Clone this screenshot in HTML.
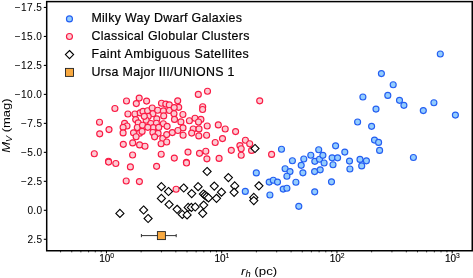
<!DOCTYPE html>
<html><head><meta charset="utf-8"><style>
html,body{margin:0;padding:0;background:#fff;}
svg{display:block;will-change:transform}
text{font-family:"Liberation Sans",sans-serif;fill:#000;stroke:#000;stroke-width:0.3px}
.tl{font-size:10.1px;stroke-width:0.05px}
.xl{font-size:10px;stroke-width:0.15px}
.xs{font-size:6.8px;stroke-width:0.1px}
.al{font-size:11.6px;stroke-width:0.02px}
.lg{font-size:12.4px;stroke-width:0.2px}
</style></head><body>
<svg width="473" height="278" viewBox="0 0 473 278">
<line x1="43.8" y1="7.45" x2="46.7" y2="7.45" stroke="#000" stroke-width="1.1"/>
<text x="42" y="10.85" text-anchor="end" class="tl" textLength="27.3" lengthAdjust="spacing">−17.5</text>
<line x1="43.8" y1="36.43" x2="46.7" y2="36.43" stroke="#000" stroke-width="1.1"/>
<text x="42" y="39.83" text-anchor="end" class="tl" textLength="27.3" lengthAdjust="spacing">−15.0</text>
<line x1="43.8" y1="65.41" x2="46.7" y2="65.41" stroke="#000" stroke-width="1.1"/>
<text x="42" y="68.81" text-anchor="end" class="tl" textLength="27.3" lengthAdjust="spacing">−12.5</text>
<line x1="43.8" y1="94.39" x2="46.7" y2="94.39" stroke="#000" stroke-width="1.1"/>
<text x="42" y="97.79" text-anchor="end" class="tl" textLength="27.3" lengthAdjust="spacing">−10.0</text>
<line x1="43.8" y1="123.37" x2="46.7" y2="123.37" stroke="#000" stroke-width="1.1"/>
<text x="42" y="126.77" text-anchor="end" class="tl" textLength="21.1" lengthAdjust="spacing">−7.5</text>
<line x1="43.8" y1="152.35" x2="46.7" y2="152.35" stroke="#000" stroke-width="1.1"/>
<text x="42" y="155.75" text-anchor="end" class="tl" textLength="21.1" lengthAdjust="spacing">−5.0</text>
<line x1="43.8" y1="181.33" x2="46.7" y2="181.33" stroke="#000" stroke-width="1.1"/>
<text x="42" y="184.73" text-anchor="end" class="tl" textLength="21.1" lengthAdjust="spacing">−2.5</text>
<line x1="43.8" y1="210.31" x2="46.7" y2="210.31" stroke="#000" stroke-width="1.1"/>
<text x="42" y="213.71" text-anchor="end" class="tl" textLength="14.6" lengthAdjust="spacing">0.0</text>
<line x1="43.8" y1="239.29" x2="46.7" y2="239.29" stroke="#000" stroke-width="1.1"/>
<text x="42" y="242.69" text-anchor="end" class="tl" textLength="14.6" lengthAdjust="spacing">2.5</text>
<line x1="60.59" y1="250.75" x2="60.59" y2="252.35" stroke="#000" stroke-width="0.8"/>
<line x1="71.76" y1="250.75" x2="71.76" y2="252.35" stroke="#000" stroke-width="0.8"/>
<line x1="80.88" y1="250.75" x2="80.88" y2="252.35" stroke="#000" stroke-width="0.8"/>
<line x1="88.60" y1="250.75" x2="88.60" y2="252.35" stroke="#000" stroke-width="0.8"/>
<line x1="95.28" y1="250.75" x2="95.28" y2="252.35" stroke="#000" stroke-width="0.8"/>
<line x1="101.18" y1="250.75" x2="101.18" y2="252.35" stroke="#000" stroke-width="0.8"/>
<line x1="106.45" y1="250.75" x2="106.45" y2="253.35" stroke="#000" stroke-width="1"/>
<text x="99.15" y="262.2" class="xl">10</text>
<text x="110.15" y="258.3" class="xs">0</text>
<line x1="141.14" y1="250.75" x2="141.14" y2="252.35" stroke="#000" stroke-width="0.8"/>
<line x1="161.44" y1="250.75" x2="161.44" y2="252.35" stroke="#000" stroke-width="0.8"/>
<line x1="175.84" y1="250.75" x2="175.84" y2="252.35" stroke="#000" stroke-width="0.8"/>
<line x1="187.01" y1="250.75" x2="187.01" y2="252.35" stroke="#000" stroke-width="0.8"/>
<line x1="196.13" y1="250.75" x2="196.13" y2="252.35" stroke="#000" stroke-width="0.8"/>
<line x1="203.85" y1="250.75" x2="203.85" y2="252.35" stroke="#000" stroke-width="0.8"/>
<line x1="210.53" y1="250.75" x2="210.53" y2="252.35" stroke="#000" stroke-width="0.8"/>
<line x1="216.43" y1="250.75" x2="216.43" y2="252.35" stroke="#000" stroke-width="0.8"/>
<line x1="221.70" y1="250.75" x2="221.70" y2="253.35" stroke="#000" stroke-width="1"/>
<text x="214.40" y="262.2" class="xl">10</text>
<text x="225.40" y="258.3" class="xs">1</text>
<line x1="256.39" y1="250.75" x2="256.39" y2="252.35" stroke="#000" stroke-width="0.8"/>
<line x1="276.69" y1="250.75" x2="276.69" y2="252.35" stroke="#000" stroke-width="0.8"/>
<line x1="291.09" y1="250.75" x2="291.09" y2="252.35" stroke="#000" stroke-width="0.8"/>
<line x1="302.26" y1="250.75" x2="302.26" y2="252.35" stroke="#000" stroke-width="0.8"/>
<line x1="311.38" y1="250.75" x2="311.38" y2="252.35" stroke="#000" stroke-width="0.8"/>
<line x1="319.10" y1="250.75" x2="319.10" y2="252.35" stroke="#000" stroke-width="0.8"/>
<line x1="325.78" y1="250.75" x2="325.78" y2="252.35" stroke="#000" stroke-width="0.8"/>
<line x1="331.68" y1="250.75" x2="331.68" y2="252.35" stroke="#000" stroke-width="0.8"/>
<line x1="336.95" y1="250.75" x2="336.95" y2="253.35" stroke="#000" stroke-width="1"/>
<text x="329.65" y="262.2" class="xl">10</text>
<text x="340.65" y="258.3" class="xs">2</text>
<line x1="371.64" y1="250.75" x2="371.64" y2="252.35" stroke="#000" stroke-width="0.8"/>
<line x1="391.94" y1="250.75" x2="391.94" y2="252.35" stroke="#000" stroke-width="0.8"/>
<line x1="406.34" y1="250.75" x2="406.34" y2="252.35" stroke="#000" stroke-width="0.8"/>
<line x1="417.51" y1="250.75" x2="417.51" y2="252.35" stroke="#000" stroke-width="0.8"/>
<line x1="426.63" y1="250.75" x2="426.63" y2="252.35" stroke="#000" stroke-width="0.8"/>
<line x1="434.35" y1="250.75" x2="434.35" y2="252.35" stroke="#000" stroke-width="0.8"/>
<line x1="441.03" y1="250.75" x2="441.03" y2="252.35" stroke="#000" stroke-width="0.8"/>
<line x1="446.93" y1="250.75" x2="446.93" y2="252.35" stroke="#000" stroke-width="0.8"/>
<line x1="452.20" y1="250.75" x2="452.20" y2="253.35" stroke="#000" stroke-width="1"/>
<text x="444.90" y="262.2" class="xl">10</text>
<text x="455.90" y="258.3" class="xs">3</text>
<rect x="46.7" y="1.6" width="425.55" height="249.15" fill="none" stroke="#000" stroke-width="1.5"/>
<text x="241.0" y="274.7" class="al" textLength="36.2" lengthAdjust="spacingAndGlyphs"><tspan font-style="italic">r</tspan><tspan font-style="italic" font-size="8.2" dy="1.8">h</tspan><tspan dy="-1.8"> (pc)</tspan></text>
<text transform="translate(10.2,152.8) rotate(-90)" class="al" textLength="54.4" lengthAdjust="spacingAndGlyphs"><tspan font-style="italic">M</tspan><tspan font-style="italic" font-size="8.2" dy="2.0">V</tspan><tspan dy="-2.0"> (mag)</tspan></text>
<circle cx="126.5" cy="101.0" r="3.0" fill="#fccbd3" stroke="#fa1a44" stroke-width="1.15"/>
<circle cx="139.2" cy="98.1" r="3.0" fill="#fccbd3" stroke="#fa1a44" stroke-width="1.15"/>
<circle cx="136.3" cy="103.6" r="3.0" fill="#fccbd3" stroke="#fa1a44" stroke-width="1.15"/>
<circle cx="146.6" cy="101.1" r="3.0" fill="#fccbd3" stroke="#fa1a44" stroke-width="1.15"/>
<circle cx="114.9" cy="108.5" r="3.0" fill="#fccbd3" stroke="#fa1a44" stroke-width="1.15"/>
<circle cx="127.9" cy="114.0" r="3.0" fill="#fccbd3" stroke="#fa1a44" stroke-width="1.15"/>
<circle cx="134.9" cy="114.0" r="3.0" fill="#fccbd3" stroke="#fa1a44" stroke-width="1.15"/>
<circle cx="140.2" cy="112.9" r="3.0" fill="#fccbd3" stroke="#fa1a44" stroke-width="1.15"/>
<circle cx="143.0" cy="111.4" r="3.0" fill="#fccbd3" stroke="#fa1a44" stroke-width="1.15"/>
<circle cx="147.6" cy="110.7" r="3.0" fill="#fccbd3" stroke="#fa1a44" stroke-width="1.15"/>
<circle cx="152.2" cy="108.0" r="3.0" fill="#fccbd3" stroke="#fa1a44" stroke-width="1.15"/>
<circle cx="152.9" cy="113.7" r="3.0" fill="#fccbd3" stroke="#fa1a44" stroke-width="1.15"/>
<circle cx="148.2" cy="116.4" r="3.0" fill="#fccbd3" stroke="#fa1a44" stroke-width="1.15"/>
<circle cx="135.7" cy="119.6" r="3.0" fill="#fccbd3" stroke="#fa1a44" stroke-width="1.15"/>
<circle cx="146.2" cy="120.2" r="3.0" fill="#fccbd3" stroke="#fa1a44" stroke-width="1.15"/>
<circle cx="138.2" cy="122.9" r="3.0" fill="#fccbd3" stroke="#fa1a44" stroke-width="1.15"/>
<circle cx="150.8" cy="123.5" r="3.0" fill="#fccbd3" stroke="#fa1a44" stroke-width="1.15"/>
<circle cx="124.6" cy="123.3" r="3.0" fill="#fccbd3" stroke="#fa1a44" stroke-width="1.15"/>
<circle cx="127.0" cy="126.0" r="3.0" fill="#fccbd3" stroke="#fa1a44" stroke-width="1.15"/>
<circle cx="123.1" cy="127.3" r="3.0" fill="#fccbd3" stroke="#fa1a44" stroke-width="1.15"/>
<circle cx="123.1" cy="132.9" r="3.0" fill="#fccbd3" stroke="#fa1a44" stroke-width="1.15"/>
<circle cx="99.5" cy="122.2" r="3.0" fill="#fccbd3" stroke="#fa1a44" stroke-width="1.15"/>
<circle cx="109.0" cy="129.6" r="3.0" fill="#fccbd3" stroke="#fa1a44" stroke-width="1.15"/>
<circle cx="99.7" cy="133.8" r="3.0" fill="#fccbd3" stroke="#fa1a44" stroke-width="1.15"/>
<circle cx="123.3" cy="144.3" r="3.0" fill="#fccbd3" stroke="#fa1a44" stroke-width="1.15"/>
<circle cx="137.3" cy="127.5" r="3.0" fill="#fccbd3" stroke="#fa1a44" stroke-width="1.15"/>
<circle cx="142.5" cy="125.2" r="3.0" fill="#fccbd3" stroke="#fa1a44" stroke-width="1.15"/>
<circle cx="133.5" cy="132.8" r="3.0" fill="#fccbd3" stroke="#fa1a44" stroke-width="1.15"/>
<circle cx="139.6" cy="133.2" r="3.0" fill="#fccbd3" stroke="#fa1a44" stroke-width="1.15"/>
<circle cx="142.1" cy="131.4" r="3.0" fill="#fccbd3" stroke="#fa1a44" stroke-width="1.15"/>
<circle cx="136.1" cy="136.7" r="3.0" fill="#fccbd3" stroke="#fa1a44" stroke-width="1.15"/>
<circle cx="132.7" cy="142.9" r="3.0" fill="#fccbd3" stroke="#fa1a44" stroke-width="1.15"/>
<circle cx="139.6" cy="144.9" r="3.0" fill="#fccbd3" stroke="#fa1a44" stroke-width="1.15"/>
<circle cx="145.0" cy="146.2" r="3.0" fill="#fccbd3" stroke="#fa1a44" stroke-width="1.15"/>
<circle cx="132.6" cy="155.0" r="3.0" fill="#fccbd3" stroke="#fa1a44" stroke-width="1.15"/>
<circle cx="94.3" cy="153.7" r="3.0" fill="#fccbd3" stroke="#fa1a44" stroke-width="1.15"/>
<circle cx="108.5" cy="161.2" r="3.0" fill="#fccbd3" stroke="#fa1a44" stroke-width="1.15"/>
<circle cx="108.6" cy="162.1" r="3.0" fill="#fccbd3" stroke="#fa1a44" stroke-width="1.15"/>
<circle cx="115.8" cy="163.5" r="3.0" fill="#fccbd3" stroke="#fa1a44" stroke-width="1.15"/>
<circle cx="130.4" cy="166.9" r="3.0" fill="#fccbd3" stroke="#fa1a44" stroke-width="1.15"/>
<circle cx="126.2" cy="181.0" r="3.0" fill="#fccbd3" stroke="#fa1a44" stroke-width="1.15"/>
<circle cx="139.4" cy="181.6" r="3.0" fill="#fccbd3" stroke="#fa1a44" stroke-width="1.15"/>
<circle cx="156.6" cy="166.3" r="3.0" fill="#fccbd3" stroke="#fa1a44" stroke-width="1.15"/>
<circle cx="161.2" cy="154.2" r="3.0" fill="#fccbd3" stroke="#fa1a44" stroke-width="1.15"/>
<circle cx="174.3" cy="158.1" r="3.0" fill="#fccbd3" stroke="#fa1a44" stroke-width="1.15"/>
<circle cx="188.0" cy="152.1" r="3.0" fill="#fccbd3" stroke="#fa1a44" stroke-width="1.15"/>
<circle cx="186.4" cy="162.3" r="3.0" fill="#fccbd3" stroke="#fa1a44" stroke-width="1.15"/>
<circle cx="186.5" cy="163.0" r="3.0" fill="#fccbd3" stroke="#fa1a44" stroke-width="1.15"/>
<circle cx="199.5" cy="153.3" r="3.0" fill="#fccbd3" stroke="#fa1a44" stroke-width="1.15"/>
<circle cx="176.1" cy="189.2" r="3.0" fill="#fccbd3" stroke="#fa1a44" stroke-width="1.15"/>
<circle cx="161.5" cy="103.2" r="3.0" fill="#fccbd3" stroke="#fa1a44" stroke-width="1.15"/>
<circle cx="165.8" cy="104.1" r="3.0" fill="#fccbd3" stroke="#fa1a44" stroke-width="1.15"/>
<circle cx="169.3" cy="104.9" r="3.0" fill="#fccbd3" stroke="#fa1a44" stroke-width="1.15"/>
<circle cx="157.7" cy="110.2" r="3.0" fill="#fccbd3" stroke="#fa1a44" stroke-width="1.15"/>
<circle cx="163.4" cy="110.9" r="3.0" fill="#fccbd3" stroke="#fa1a44" stroke-width="1.15"/>
<circle cx="169.4" cy="110.5" r="3.0" fill="#fccbd3" stroke="#fa1a44" stroke-width="1.15"/>
<circle cx="177.7" cy="100.8" r="3.0" fill="#fccbd3" stroke="#fa1a44" stroke-width="1.15"/>
<circle cx="178.7" cy="107.3" r="3.0" fill="#fccbd3" stroke="#fa1a44" stroke-width="1.15"/>
<circle cx="174.2" cy="107.6" r="3.0" fill="#fccbd3" stroke="#fa1a44" stroke-width="1.15"/>
<circle cx="174.0" cy="113.7" r="3.0" fill="#fccbd3" stroke="#fa1a44" stroke-width="1.15"/>
<circle cx="182.9" cy="114.5" r="3.0" fill="#fccbd3" stroke="#fa1a44" stroke-width="1.15"/>
<circle cx="163.7" cy="115.9" r="3.0" fill="#fccbd3" stroke="#fa1a44" stroke-width="1.15"/>
<circle cx="156.8" cy="118.9" r="3.0" fill="#fccbd3" stroke="#fa1a44" stroke-width="1.15"/>
<circle cx="156.4" cy="123.2" r="3.0" fill="#fccbd3" stroke="#fa1a44" stroke-width="1.15"/>
<circle cx="163.3" cy="123.7" r="3.0" fill="#fccbd3" stroke="#fa1a44" stroke-width="1.15"/>
<circle cx="167.1" cy="126.3" r="3.0" fill="#fccbd3" stroke="#fa1a44" stroke-width="1.15"/>
<circle cx="153.3" cy="127.6" r="3.0" fill="#fccbd3" stroke="#fa1a44" stroke-width="1.15"/>
<circle cx="174.5" cy="119.4" r="3.0" fill="#fccbd3" stroke="#fa1a44" stroke-width="1.15"/>
<circle cx="180.9" cy="121.9" r="3.0" fill="#fccbd3" stroke="#fa1a44" stroke-width="1.15"/>
<circle cx="189.4" cy="120.7" r="3.0" fill="#fccbd3" stroke="#fa1a44" stroke-width="1.15"/>
<circle cx="195.0" cy="118.2" r="3.0" fill="#fccbd3" stroke="#fa1a44" stroke-width="1.15"/>
<circle cx="200.9" cy="119.4" r="3.0" fill="#fccbd3" stroke="#fa1a44" stroke-width="1.15"/>
<circle cx="198.5" cy="122.0" r="3.0" fill="#fccbd3" stroke="#fa1a44" stroke-width="1.15"/>
<circle cx="183.0" cy="127.9" r="3.0" fill="#fccbd3" stroke="#fa1a44" stroke-width="1.15"/>
<circle cx="193.2" cy="129.0" r="3.0" fill="#fccbd3" stroke="#fa1a44" stroke-width="1.15"/>
<circle cx="152.9" cy="132.5" r="3.0" fill="#fccbd3" stroke="#fa1a44" stroke-width="1.15"/>
<circle cx="158.1" cy="133.3" r="3.0" fill="#fccbd3" stroke="#fa1a44" stroke-width="1.15"/>
<circle cx="154.6" cy="136.8" r="3.0" fill="#fccbd3" stroke="#fa1a44" stroke-width="1.15"/>
<circle cx="162.8" cy="138.5" r="3.0" fill="#fccbd3" stroke="#fa1a44" stroke-width="1.15"/>
<circle cx="166.7" cy="134.6" r="3.0" fill="#fccbd3" stroke="#fa1a44" stroke-width="1.15"/>
<circle cx="172.3" cy="132.6" r="3.0" fill="#fccbd3" stroke="#fa1a44" stroke-width="1.15"/>
<circle cx="161.1" cy="143.7" r="3.0" fill="#fccbd3" stroke="#fa1a44" stroke-width="1.15"/>
<circle cx="166.7" cy="142.0" r="3.0" fill="#fccbd3" stroke="#fa1a44" stroke-width="1.15"/>
<circle cx="177.9" cy="130.5" r="3.0" fill="#fccbd3" stroke="#fa1a44" stroke-width="1.15"/>
<circle cx="183.1" cy="135.2" r="3.0" fill="#fccbd3" stroke="#fa1a44" stroke-width="1.15"/>
<circle cx="191.7" cy="133.1" r="3.0" fill="#fccbd3" stroke="#fa1a44" stroke-width="1.15"/>
<circle cx="198.8" cy="135.9" r="3.0" fill="#fccbd3" stroke="#fa1a44" stroke-width="1.15"/>
<circle cx="199.0" cy="128.9" r="3.0" fill="#fccbd3" stroke="#fa1a44" stroke-width="1.15"/>
<circle cx="206.6" cy="135.2" r="3.0" fill="#fccbd3" stroke="#fa1a44" stroke-width="1.15"/>
<circle cx="207.2" cy="126.0" r="3.0" fill="#fccbd3" stroke="#fa1a44" stroke-width="1.15"/>
<circle cx="218.3" cy="124.9" r="3.0" fill="#fccbd3" stroke="#fa1a44" stroke-width="1.15"/>
<circle cx="225.2" cy="129.0" r="3.0" fill="#fccbd3" stroke="#fa1a44" stroke-width="1.15"/>
<circle cx="235.6" cy="131.6" r="3.0" fill="#fccbd3" stroke="#fa1a44" stroke-width="1.15"/>
<circle cx="222.5" cy="138.6" r="3.0" fill="#fccbd3" stroke="#fa1a44" stroke-width="1.15"/>
<circle cx="215.2" cy="142.5" r="3.0" fill="#fccbd3" stroke="#fa1a44" stroke-width="1.15"/>
<circle cx="245.4" cy="140.2" r="3.0" fill="#fccbd3" stroke="#fa1a44" stroke-width="1.15"/>
<circle cx="249.7" cy="143.7" r="3.0" fill="#fccbd3" stroke="#fa1a44" stroke-width="1.15"/>
<circle cx="239.9" cy="145.6" r="3.0" fill="#fccbd3" stroke="#fa1a44" stroke-width="1.15"/>
<circle cx="241.2" cy="148.7" r="3.0" fill="#fccbd3" stroke="#fa1a44" stroke-width="1.15"/>
<circle cx="231.3" cy="150.3" r="3.0" fill="#fccbd3" stroke="#fa1a44" stroke-width="1.15"/>
<circle cx="241.2" cy="155.2" r="3.0" fill="#fccbd3" stroke="#fa1a44" stroke-width="1.15"/>
<circle cx="251.6" cy="150.4" r="3.0" fill="#fccbd3" stroke="#fa1a44" stroke-width="1.15"/>
<circle cx="271.6" cy="154.4" r="3.0" fill="#fccbd3" stroke="#fa1a44" stroke-width="1.15"/>
<circle cx="259.7" cy="100.8" r="3.0" fill="#fccbd3" stroke="#fa1a44" stroke-width="1.15"/>
<circle cx="207.5" cy="91.2" r="3.0" fill="#fccbd3" stroke="#fa1a44" stroke-width="1.15"/>
<circle cx="198.3" cy="94.4" r="3.0" fill="#fccbd3" stroke="#fa1a44" stroke-width="1.15"/>
<circle cx="202.7" cy="106.7" r="3.0" fill="#fccbd3" stroke="#fa1a44" stroke-width="1.15"/>
<circle cx="202.6" cy="109.5" r="3.0" fill="#fccbd3" stroke="#fa1a44" stroke-width="1.15"/>
<circle cx="205.8" cy="151.2" r="3.0" fill="#fccbd3" stroke="#fa1a44" stroke-width="1.15"/>
<circle cx="206.9" cy="158.8" r="3.0" fill="#fccbd3" stroke="#fa1a44" stroke-width="1.15"/>
<circle cx="219.1" cy="158.4" r="3.0" fill="#fccbd3" stroke="#fa1a44" stroke-width="1.15"/>
<circle cx="144.3" cy="116.3" r="3.0" fill="#fccbd3" stroke="#fa1a44" stroke-width="1.15"/>
<circle cx="147.8" cy="127.3" r="3.0" fill="#fccbd3" stroke="#fa1a44" stroke-width="1.15"/>
<circle cx="158.7" cy="127.4" r="3.0" fill="#fccbd3" stroke="#fa1a44" stroke-width="1.15"/>
<circle cx="281.5" cy="149.2" r="3.0" fill="#94cdfd" stroke="#235ef2" stroke-width="1.15"/>
<circle cx="292.4" cy="160.7" r="3.0" fill="#94cdfd" stroke="#235ef2" stroke-width="1.15"/>
<circle cx="303.8" cy="159.0" r="3.0" fill="#94cdfd" stroke="#235ef2" stroke-width="1.15"/>
<circle cx="310.8" cy="155.2" r="3.0" fill="#94cdfd" stroke="#235ef2" stroke-width="1.15"/>
<circle cx="318.7" cy="149.7" r="3.0" fill="#94cdfd" stroke="#235ef2" stroke-width="1.15"/>
<circle cx="314.8" cy="161.3" r="3.0" fill="#94cdfd" stroke="#235ef2" stroke-width="1.15"/>
<circle cx="319.5" cy="159.2" r="3.0" fill="#94cdfd" stroke="#235ef2" stroke-width="1.15"/>
<circle cx="301.2" cy="165.3" r="3.0" fill="#94cdfd" stroke="#235ef2" stroke-width="1.15"/>
<circle cx="285.1" cy="168.7" r="3.0" fill="#94cdfd" stroke="#235ef2" stroke-width="1.15"/>
<circle cx="290.0" cy="171.6" r="3.0" fill="#94cdfd" stroke="#235ef2" stroke-width="1.15"/>
<circle cx="286.9" cy="176.2" r="3.0" fill="#94cdfd" stroke="#235ef2" stroke-width="1.15"/>
<circle cx="302.9" cy="172.8" r="3.0" fill="#94cdfd" stroke="#235ef2" stroke-width="1.15"/>
<circle cx="314.6" cy="171.6" r="3.0" fill="#94cdfd" stroke="#235ef2" stroke-width="1.15"/>
<circle cx="320.2" cy="169.8" r="3.0" fill="#94cdfd" stroke="#235ef2" stroke-width="1.15"/>
<circle cx="269.2" cy="182.1" r="3.0" fill="#94cdfd" stroke="#235ef2" stroke-width="1.15"/>
<circle cx="273.3" cy="180.2" r="3.0" fill="#94cdfd" stroke="#235ef2" stroke-width="1.15"/>
<circle cx="277.5" cy="182.1" r="3.0" fill="#94cdfd" stroke="#235ef2" stroke-width="1.15"/>
<circle cx="295.9" cy="182.2" r="3.0" fill="#94cdfd" stroke="#235ef2" stroke-width="1.15"/>
<circle cx="283.2" cy="189.1" r="3.0" fill="#94cdfd" stroke="#235ef2" stroke-width="1.15"/>
<circle cx="286.9" cy="188.2" r="3.0" fill="#94cdfd" stroke="#235ef2" stroke-width="1.15"/>
<circle cx="269.9" cy="195.0" r="3.0" fill="#94cdfd" stroke="#235ef2" stroke-width="1.15"/>
<circle cx="314.7" cy="191.8" r="3.0" fill="#94cdfd" stroke="#235ef2" stroke-width="1.15"/>
<circle cx="298.8" cy="206.3" r="3.0" fill="#94cdfd" stroke="#235ef2" stroke-width="1.15"/>
<circle cx="256.3" cy="172.9" r="3.0" fill="#94cdfd" stroke="#235ef2" stroke-width="1.15"/>
<circle cx="245.3" cy="191.4" r="3.0" fill="#94cdfd" stroke="#235ef2" stroke-width="1.15"/>
<circle cx="335.6" cy="145.8" r="3.0" fill="#94cdfd" stroke="#235ef2" stroke-width="1.15"/>
<circle cx="344.8" cy="152.1" r="3.0" fill="#94cdfd" stroke="#235ef2" stroke-width="1.15"/>
<circle cx="374.5" cy="140.1" r="3.0" fill="#94cdfd" stroke="#235ef2" stroke-width="1.15"/>
<circle cx="322.9" cy="155.3" r="3.0" fill="#94cdfd" stroke="#235ef2" stroke-width="1.15"/>
<circle cx="324.1" cy="163.0" r="3.0" fill="#94cdfd" stroke="#235ef2" stroke-width="1.15"/>
<circle cx="332.1" cy="157.8" r="3.0" fill="#94cdfd" stroke="#235ef2" stroke-width="1.15"/>
<circle cx="337.6" cy="157.8" r="3.0" fill="#94cdfd" stroke="#235ef2" stroke-width="1.15"/>
<circle cx="333.0" cy="164.7" r="3.0" fill="#94cdfd" stroke="#235ef2" stroke-width="1.15"/>
<circle cx="349.5" cy="161.1" r="3.0" fill="#94cdfd" stroke="#235ef2" stroke-width="1.15"/>
<circle cx="360.0" cy="159.4" r="3.0" fill="#94cdfd" stroke="#235ef2" stroke-width="1.15"/>
<circle cx="366.4" cy="160.8" r="3.0" fill="#94cdfd" stroke="#235ef2" stroke-width="1.15"/>
<circle cx="361.7" cy="165.9" r="3.0" fill="#94cdfd" stroke="#235ef2" stroke-width="1.15"/>
<circle cx="349.9" cy="169.0" r="3.0" fill="#94cdfd" stroke="#235ef2" stroke-width="1.15"/>
<circle cx="331.5" cy="181.8" r="3.0" fill="#94cdfd" stroke="#235ef2" stroke-width="1.15"/>
<circle cx="381.4" cy="73.6" r="3.0" fill="#94cdfd" stroke="#235ef2" stroke-width="1.15"/>
<circle cx="393.2" cy="84.7" r="3.0" fill="#94cdfd" stroke="#235ef2" stroke-width="1.15"/>
<circle cx="362.9" cy="97.0" r="3.0" fill="#94cdfd" stroke="#235ef2" stroke-width="1.15"/>
<circle cx="387.8" cy="95.4" r="3.0" fill="#94cdfd" stroke="#235ef2" stroke-width="1.15"/>
<circle cx="399.5" cy="100.3" r="3.0" fill="#94cdfd" stroke="#235ef2" stroke-width="1.15"/>
<circle cx="403.9" cy="105.3" r="3.0" fill="#94cdfd" stroke="#235ef2" stroke-width="1.15"/>
<circle cx="376.0" cy="109.1" r="3.0" fill="#94cdfd" stroke="#235ef2" stroke-width="1.15"/>
<circle cx="357.6" cy="122.0" r="3.0" fill="#94cdfd" stroke="#235ef2" stroke-width="1.15"/>
<circle cx="371.6" cy="126.3" r="3.0" fill="#94cdfd" stroke="#235ef2" stroke-width="1.15"/>
<circle cx="378.6" cy="142.4" r="3.0" fill="#94cdfd" stroke="#235ef2" stroke-width="1.15"/>
<circle cx="379.6" cy="150.4" r="3.0" fill="#94cdfd" stroke="#235ef2" stroke-width="1.15"/>
<circle cx="440.3" cy="54.0" r="3.0" fill="#94cdfd" stroke="#235ef2" stroke-width="1.15"/>
<circle cx="433.9" cy="102.7" r="3.0" fill="#94cdfd" stroke="#235ef2" stroke-width="1.15"/>
<circle cx="423.3" cy="110.6" r="3.0" fill="#94cdfd" stroke="#235ef2" stroke-width="1.15"/>
<circle cx="455.4" cy="115.1" r="3.0" fill="#94cdfd" stroke="#235ef2" stroke-width="1.15"/>
<circle cx="413.4" cy="157.5" r="3.0" fill="#94cdfd" stroke="#235ef2" stroke-width="1.15"/>
<path d="M255.0 144.45 L259.05 148.5 L255.0 152.55 L250.95 148.5 Z" fill="#fff" stroke="#000" stroke-width="1.1"/>
<path d="M207.1 167.45 L211.15 171.5 L207.1 175.55 L203.05 171.5 Z" fill="#fff" stroke="#000" stroke-width="1.1"/>
<path d="M161.4 182.65 L165.45 186.7 L161.4 190.75 L157.35 186.7 Z" fill="#fff" stroke="#000" stroke-width="1.1"/>
<path d="M168.5 187.45 L172.55 191.5 L168.5 195.55 L164.45 191.5 Z" fill="#fff" stroke="#000" stroke-width="1.1"/>
<path d="M183.7 183.95 L187.75 188.0 L183.7 192.05 L179.65 188.0 Z" fill="#fff" stroke="#000" stroke-width="1.1"/>
<path d="M198.1 182.65 L202.15 186.7 L198.1 190.75 L194.05 186.7 Z" fill="#fff" stroke="#000" stroke-width="1.1"/>
<path d="M191.7 189.55 L195.75 193.6 L191.7 197.65 L187.65 193.6 Z" fill="#fff" stroke="#000" stroke-width="1.1"/>
<path d="M161.4 194.35 L165.45 198.4 L161.4 202.45 L157.35 198.4 Z" fill="#fff" stroke="#000" stroke-width="1.1"/>
<path d="M169.1 200.45 L173.15 204.5 L169.1 208.55 L165.05 204.5 Z" fill="#fff" stroke="#000" stroke-width="1.1"/>
<path d="M177.1 205.25 L181.15 209.3 L177.1 213.35 L173.05 209.3 Z" fill="#fff" stroke="#000" stroke-width="1.1"/>
<path d="M182.3 210.35 L186.35 214.4 L182.3 218.45 L178.25 214.4 Z" fill="#fff" stroke="#000" stroke-width="1.1"/>
<path d="M187.1 210.85 L191.15 214.9 L187.1 218.95 L183.05 214.9 Z" fill="#fff" stroke="#000" stroke-width="1.1"/>
<path d="M188.2 203.35 L192.25 207.4 L188.2 211.45 L184.15 207.4 Z" fill="#fff" stroke="#000" stroke-width="1.1"/>
<path d="M191.4 203.35 L195.45 207.4 L191.4 211.45 L187.35 207.4 Z" fill="#fff" stroke="#000" stroke-width="1.1"/>
<path d="M195.2 202.95 L199.25 207.0 L195.2 211.05 L191.15 207.0 Z" fill="#fff" stroke="#000" stroke-width="1.1"/>
<path d="M203.7 201.05 L207.75 205.1 L203.7 209.15 L199.65 205.1 Z" fill="#fff" stroke="#000" stroke-width="1.1"/>
<path d="M202.7 209.25 L206.75 213.3 L202.7 217.35 L198.65 213.3 Z" fill="#fff" stroke="#000" stroke-width="1.1"/>
<path d="M203.4 189.95 L207.45 194.0 L203.4 198.05 L199.35 194.0 Z" fill="#fff" stroke="#000" stroke-width="1.1"/>
<path d="M205.1 191.25 L209.15 195.3 L205.1 199.35 L201.05 195.3 Z" fill="#fff" stroke="#000" stroke-width="1.1"/>
<path d="M206.8 192.55 L210.85 196.6 L206.8 200.65 L202.75 196.6 Z" fill="#fff" stroke="#000" stroke-width="1.1"/>
<path d="M208.5 193.85 L212.55 197.9 L208.5 201.95 L204.45 197.9 Z" fill="#fff" stroke="#000" stroke-width="1.1"/>
<path d="M216.5 194.25 L220.55 198.3 L216.5 202.35 L212.45 198.3 Z" fill="#fff" stroke="#000" stroke-width="1.1"/>
<path d="M214.3 182.05 L218.35 186.1 L214.3 190.15 L210.25 186.1 Z" fill="#fff" stroke="#000" stroke-width="1.1"/>
<path d="M221.5 188.15 L225.55 192.2 L221.5 196.25 L217.45 192.2 Z" fill="#fff" stroke="#000" stroke-width="1.1"/>
<path d="M228.4 173.55 L232.45 177.6 L228.4 181.65 L224.35 177.6 Z" fill="#fff" stroke="#000" stroke-width="1.1"/>
<path d="M234.7 181.85 L238.75 185.9 L234.7 189.95 L230.65 185.9 Z" fill="#fff" stroke="#000" stroke-width="1.1"/>
<path d="M234.1 188.25 L238.15 192.3 L234.1 196.35 L230.05 192.3 Z" fill="#fff" stroke="#000" stroke-width="1.1"/>
<path d="M258.9 181.75 L262.95 185.8 L258.9 189.85 L254.85 185.8 Z" fill="#fff" stroke="#000" stroke-width="1.1"/>
<path d="M253.8 193.35 L257.85 197.4 L253.8 201.45 L249.75 197.4 Z" fill="#fff" stroke="#000" stroke-width="1.1"/>
<path d="M253.8 196.55 L257.85 200.6 L253.8 204.65 L249.75 200.6 Z" fill="#fff" stroke="#000" stroke-width="1.1"/>
<path d="M119.9 209.35 L123.95 213.4 L119.9 217.45 L115.85 213.4 Z" fill="#fff" stroke="#000" stroke-width="1.1"/>
<path d="M143.6 205.95 L147.65 210.0 L143.6 214.05 L139.55 210.0 Z" fill="#fff" stroke="#000" stroke-width="1.1"/>
<path d="M148.1 214.45 L152.15 218.5 L148.1 222.55 L144.05 218.5 Z" fill="#fff" stroke="#000" stroke-width="1.1"/>
<line x1="141.4" y1="235.6" x2="176.2" y2="235.6" stroke="#333" stroke-width="1"/>
<line x1="141.4" y1="234" x2="141.4" y2="237.2" stroke="#333" stroke-width="1"/>
<line x1="176.2" y1="234" x2="176.2" y2="237.2" stroke="#333" stroke-width="1"/>
<rect x="157.4" y="231.6" width="8" height="8" fill="#f8a940" stroke="#222" stroke-width="0.9"/>
<circle cx="69.45" cy="18.9" r="3.0" fill="#94cdfd" stroke="#235ef2" stroke-width="1.15"/>
<circle cx="69.45" cy="36.5" r="3.0" fill="#fccbd3" stroke="#fa1a44" stroke-width="1.15"/>
<path d="M69.5 50.5 L73.6 54.6 L69.5 58.7 L65.4 54.6 Z" fill="#fff" stroke="#000" stroke-width="1.1"/>
<rect x="65.5" y="68.4" width="8" height="8" fill="#f8a940" stroke="#222" stroke-width="0.9"/>
<text x="91.4" y="22.00" class="lg" textLength="150.6" lengthAdjust="spacing">Milky Way Dwarf Galaxies</text>
<text x="91.4" y="39.60" class="lg" textLength="158.0" lengthAdjust="spacing">Classical Globular Clusters</text>
<text x="91.4" y="57.70" class="lg" textLength="157.4" lengthAdjust="spacing">Faint Ambiguous Satellites</text>
<text x="91.4" y="75.50" class="lg" textLength="143.1" lengthAdjust="spacing">Ursa Major III/UNIONS 1</text>
</svg></body></html>
